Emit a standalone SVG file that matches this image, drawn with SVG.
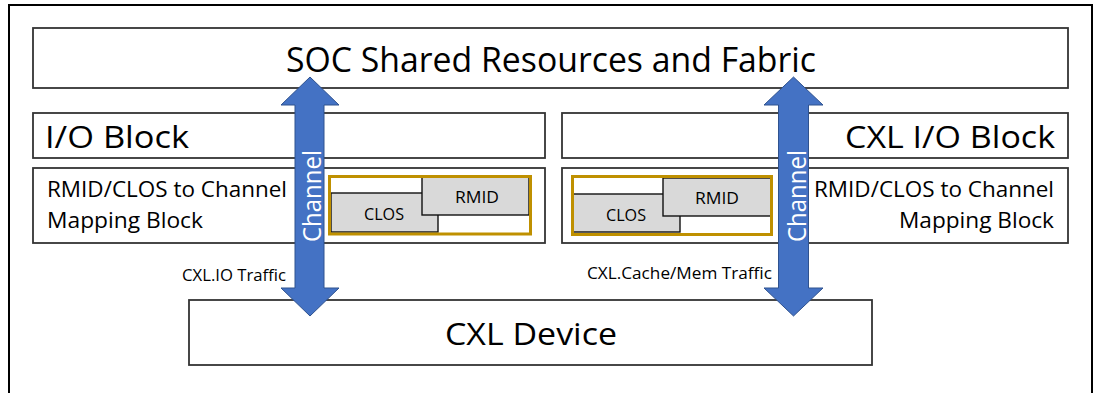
<svg xmlns="http://www.w3.org/2000/svg" width="1094" height="393" viewBox="0 0 1094 393">
<style>
.box{fill:#fff;stroke:#333;stroke-width:1.8}
.gold{fill:none;stroke:#BF9000;stroke-width:3}
.reg{fill:#D9D9D9;stroke:#111;stroke-width:1.4}
.arrow{fill:#4472C4;stroke:#2F528F;stroke-width:1}
text{font-family:"Open Sans","Noto Sans","Liberation Sans",sans-serif;fill:#000}
.big{font-size:34px}
.mid{font-size:31px}
.sm{font-size:21px}
.tiny{font-size:16px}
.lbl{font-size:15.5px}
.ch{font-size:25px;fill:#fff}
</style>
<rect width="1094" height="393" fill="#fff"/>
<path d="M9,393 V5 H1092 V393" fill="none" stroke="#000" stroke-width="2"/>
<g id="soc">
<rect class="box" x="33" y="28" width="1035" height="60"/>
<text class="big" x="551" y="72" text-anchor="middle" textLength="530" lengthAdjust="spacingAndGlyphs">SOC Shared Resources and Fabric</text>
</g>
<g id="io-block">
<rect class="box" x="33" y="113" width="512" height="45"/>
<text class="mid" x="45" y="148" textLength="144" lengthAdjust="spacingAndGlyphs">I/O Block</text>
</g>
<g id="io-mapping">
<rect class="box" x="33" y="168" width="512" height="75"/>
<text class="sm" x="47" y="197" textLength="240" lengthAdjust="spacingAndGlyphs">RMID/CLOS to Channel</text>
<text class="sm" x="47" y="228" textLength="156" lengthAdjust="spacingAndGlyphs">Mapping Block</text>
<rect class="reg" x="331" y="193" width="107" height="39"/>
<text class="tiny" x="384" y="220" text-anchor="middle" textLength="40" lengthAdjust="spacingAndGlyphs">CLOS</text>
<rect class="reg" x="422" y="177" width="107" height="38"/>
<text class="tiny" x="477" y="203" text-anchor="middle" textLength="44" lengthAdjust="spacingAndGlyphs">RMID</text>
<rect class="gold" x="329.5" y="176.5" width="201" height="57.5"/>
</g>
<g id="cxl-io-block">
<rect class="box" x="562" y="113" width="506" height="45"/>
<text class="mid" x="1055" y="148" text-anchor="end" textLength="210" lengthAdjust="spacingAndGlyphs">CXL I/O Block</text>
</g>
<g id="cxl-mapping">
<rect class="box" x="562" y="168" width="506" height="75"/>
<text class="sm" x="1054" y="197" text-anchor="end" textLength="240" lengthAdjust="spacingAndGlyphs">RMID/CLOS to Channel</text>
<text class="sm" x="1054" y="228" text-anchor="end" textLength="155" lengthAdjust="spacingAndGlyphs">Mapping Block</text>
<rect class="reg" x="573" y="194" width="107" height="38"/>
<text class="tiny" x="626" y="221" text-anchor="middle" textLength="40" lengthAdjust="spacingAndGlyphs">CLOS</text>
<rect class="reg" x="663" y="178" width="108" height="38"/>
<text class="tiny" x="717" y="204" text-anchor="middle" textLength="44" lengthAdjust="spacingAndGlyphs">RMID</text>
<rect class="gold" x="572.5" y="176.5" width="199" height="58"/>
</g>
<g id="cxl-device">
<rect class="box" x="189" y="300" width="683" height="65"/>
<text class="mid" x="531" y="345" text-anchor="middle" textLength="172" lengthAdjust="spacingAndGlyphs">CXL Device</text>
</g>
<g id="connectors">
<polygon class="arrow" points="310,77 339,105 324,105 324,288 339,288 310,316 281,288 295,288 295,105 281,105"/>
<text class="ch" transform="translate(321,196) rotate(-90)" text-anchor="middle" textLength="92" lengthAdjust="spacingAndGlyphs">Channel</text>
<text class="lbl" x="286" y="281" text-anchor="end" textLength="104" lengthAdjust="spacingAndGlyphs">CXL.IO Traffic</text>
<polygon class="arrow" points="793.5,77 823,105 808.5,105 808.5,288 823,288 793.5,316 764,288 778.5,288 778.5,105 764,105"/>
<text class="ch" transform="translate(806,196) rotate(-90)" text-anchor="middle" textLength="92" lengthAdjust="spacingAndGlyphs">Channel</text>
<text class="lbl" x="587" y="279" textLength="185" lengthAdjust="spacingAndGlyphs">CXL.Cache/Mem Traffic</text>
</g>
</svg>
